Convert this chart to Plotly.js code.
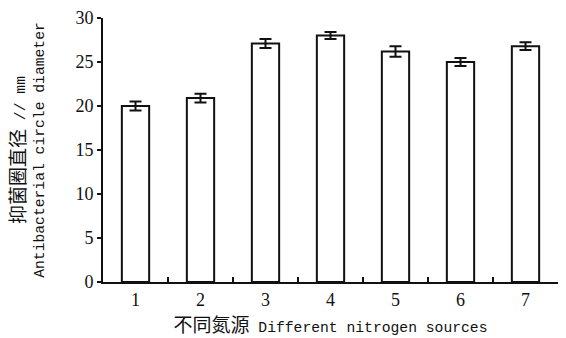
<!DOCTYPE html>
<html>
<head>
<meta charset="utf-8">
<script src="https://cdn.plot.ly/plotly-3.0.1.min.js"></script>
<style>html,body{margin:0;padding:0;background:#fff;}#chart{width:566px;height:338px;}</style>
</head>
<body>
<div id="chart"></div>
<script>
const categories = ["1", "2", "3", "4", "5", "6", "7"];
const diameters = [20.0, 20.9, 27.1, 28.0, 26.2, 25.0, 26.8];
const errors = [0.5, 0.5, 0.5, 0.4, 0.6, 0.45, 0.45];
const yTicks = [0, 5, 10, 15, 20, 25, 30];

const cjk = 'font-family:Noto Sans CJK TC;font-size:19px';
const serif = 'Liberation Serif, Times New Roman, serif';
const mono = 'Liberation Mono, monospace';
const trace = {
  type: 'bar',
  x: categories,
  y: diameters,
  width: 0.42,
  marker: {color: '#ffffff', line: {color: '#111111', width: 2}},
  error_y: {type: 'data', array: errors, visible: true, color: '#111111', thickness: 2, width: 6}
};

const layout = {
  width: 566, height: 338,
  margin: {l: 103, r: 8, t: 18, b: 56},
  paper_bgcolor: '#ffffff', plot_bgcolor: '#ffffff',
  showlegend: false,
  font: {family: serif, color: '#111111'},
  xaxis: {
    type: 'category',
    showline: true, linecolor: '#111111', linewidth: 2,
    ticks: 'inside', tickson: 'boundaries', ticklen: 5, tickwidth: 1.5, tickcolor: '#111111',
    tickfont: {family: serif, size: 18, color: '#111111'},
    showgrid: false, zeroline: false,
    title: {text: '<span style="' + cjk + '">不同氮源</span> Different nitrogen sources',
            font: {family: mono, size: 14.7, color: '#111111'}, standoff: 12}
  },
  yaxis: {
    range: [0, 30], tickvals: yTicks,
    showline: true, linecolor: '#111111', linewidth: 2,
    ticks: 'outside', ticklen: 4, tickwidth: 1.5, tickcolor: '#111111',
    tickfont: {family: serif, size: 18, color: '#111111'},
    showgrid: false, zeroline: false,
    title: {text: '<span style="' + cjk + '">抑菌圈直径</span> // mm<br>Antibacterial circle diameter',
            font: {family: mono, size: 14.7, color: '#111111'}, standoff: 27}
  }
};

Plotly.newPlot('chart', [trace], layout, {displayModeBar: false, staticPlot: true});
</script>
</body>
</html>
